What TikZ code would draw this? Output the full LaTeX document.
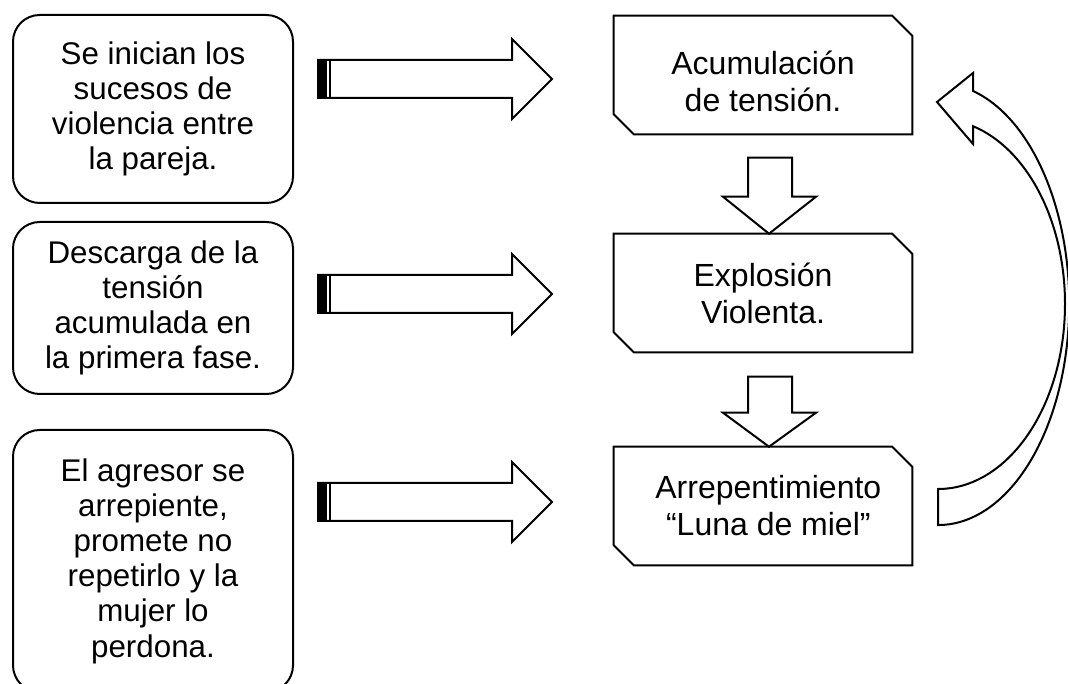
\documentclass[tikz,border=0pt]{standalone}
\usepackage{fontspec}
\setmainfont{Liberation Sans}
\usetikzlibrary{calc}
\begin{document}
\begin{tikzpicture}[x=0.75pt,y=0.75pt,
  lw/.style={line width=1.5pt},
  leftbox/.style={draw, lw, rounded corners=20pt, minimum width=210pt, align=center,
    inner sep=0pt, font=\fontsize{23.5}{26.4}\selectfont},
  rightbox/.style={draw=none, minimum width=223.5pt, minimum height=88.5pt, align=center,
    inner sep=0pt, font=\fontsize{24}{27.75}\selectfont},
  blockarrow/.style={draw, lw, fill=white, line join=miter}]
\useasboundingbox (0,0) rectangle (1068,684);
\clip (0,0) rectangle (1068,684);

% left boxes
\node[leftbox, minimum height=141pt] (L1) at (153,575)
  {Se inician los\\sucesos de\\violencia entre\\la pareja.};
\node[leftbox, minimum height=129pt] (L2) at (153,376)
  {Descarga de la\\tensión\\acumulada en\\la primera fase.};
\node[leftbox, minimum height=196.5pt] (L3) at (153,123)
  {El agresor se\\arrepiente,\\promete no\\repetirlo y la\\mujer lo\\perdona.};

% right boxes
\node[rightbox] (A) at (763,609) {};
\node[rightbox] (B) at (763,391) {Explosión\\Violenta.};
\node[rightbox] (C) at (763,178) {\hspace*{8pt}Arrepentimiento\\\hspace*{8pt}“Luna de miel”};
\node[align=center, inner sep=0pt, font=\fontsize{24}{27.75}\selectfont]
  (At) at ($(A.center)+(0,-6)$) {Acumulación\\de tensión.};
\foreach \n in {A,B,C}{
  \draw[lw, line join=miter] (\n.north west) -- ($(\n.north east)+(-20,0)$)
    -- ($(\n.north east)+(0,-20)$) -- (\n.south east)
    -- ($(\n.south west)+(20,0)$) -- ($(\n.south west)+(0,20)$) -- cycle;
}

% striped right arrows
\coordinate (r1) at (318,605);
\coordinate (r2) at (318,390);
\coordinate (r3) at (318,182);
\foreach \r in {r1,r2,r3}{
  \draw[blockarrow] ($(\r)+(0,-19)$) -- ($(\r)+(194,-19)$) -- ($(\r)+(194,-40)$)
    -- ($(\r)+(234,0)$) -- ($(\r)+(194,40)$) -- ($(\r)+(194,19)$)
    -- ($(\r)+(0,19)$) -- cycle;
  \fill ($(\r)+(0,-19)$) rectangle ($(\r)+(9,19)$);
  \draw[line width=1.5pt] ($(\r)+(12,-19)$) -- ($(\r)+(12,19)$);
}

% down arrows
\coordinate (d1) at ($(B.north)+(6,0)$);
\coordinate (d2) at ($(C.north)+(6,0)$);
\draw[blockarrow] (d1) -- ($(d1)+(47,37)$) -- ($(d1)+(23,37)$) -- ($(d1)+(23,76)$)
  -- ($(d1)+(-21,76)$) -- ($(d1)+(-21,37)$) -- ($(d1)+(-46,37)$) -- cycle;
\draw[blockarrow] (d2) -- ($(d2)+(47,34)$) -- ($(d2)+(23,34)$) -- ($(d2)+(23,70)$)
  -- ($(d2)+(-21,70)$) -- ($(d2)+(-21,34)$) -- ($(d2)+(-46,34)$) -- cycle;

% curved return arrow
\coordinate (ct) at (938,195);
\draw[lw, line join=miter] (ct)
  arc[start angle=-90, end angle=74.0, x radius=127, y radius=185]
  -- (973,540) -- (937,582) -- (973,611) -- (973,593)
  arc[start angle=74.6, end angle=-90, x radius=131, y radius=221]
  -- cycle;
\end{tikzpicture}
\end{document}
